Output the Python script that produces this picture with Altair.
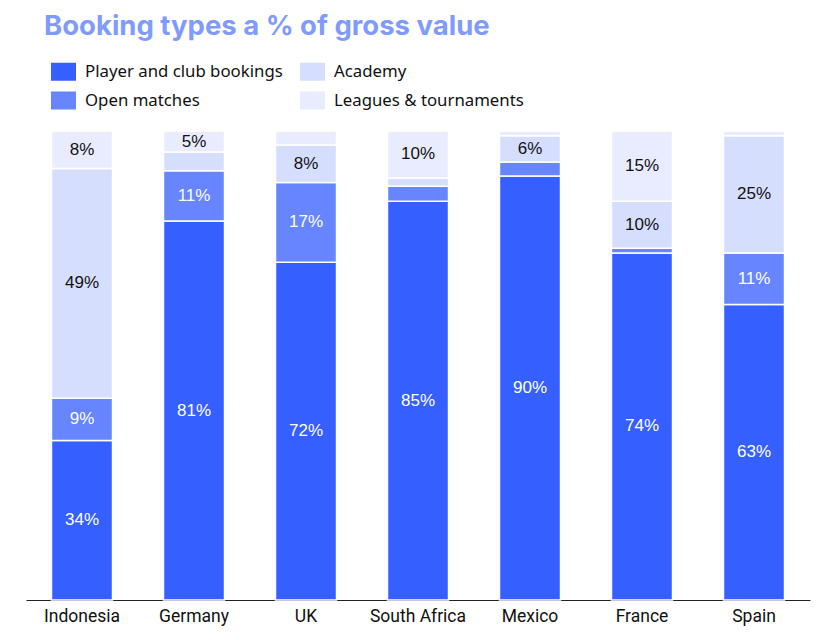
import altair as alt
import pandas as pd

countries = ["Indonesia", "Germany", "UK", "South Africa", "Mexico", "France", "Spain"]
categories = ["Player and club bookings", "Open matches", "Academy", "Leagues & tournaments"]
player = [34, 80.8, 72, 85, 90.4, 74, 63]
open_matches = [9, 10.7, 17, 3.2, 3, 1, 11]
academy = [49, 4.0, 8, 1.8, 5.6, 10, 25]
leagues = [8, 4.5, 3, 10, 1, 15, 1]

series = [player, open_matches, academy, leagues]
colors = {"Player and club bookings": "#3560FF", "Open matches": "#6685FF",
          "Academy": "#D6DEFE", "Leagues & tournaments": "#E9ECFF"}
text_colors = {"Player and club bookings": "white", "Open matches": "white",
               "Academy": "#111111", "Leagues & tournaments": "#111111"}

rows = []
for ci, cat in enumerate(categories):
    for i, c in enumerate(countries):
        rows.append({"country": c, "category": cat, "order": ci,
                     "value": series[ci][i], "tcolor": text_colors[cat]})
df = pd.DataFrame(rows)

base = alt.Chart(df).transform_stack(
    stack="value", groupby=["country"],
    sort=[alt.SortField("order", order="ascending")], as_=["y0", "y1"]
).transform_calculate(mid="(datum.y0 + datum.y1) / 2",
                      label="round(datum.value) + '%'")

x = alt.X("country:N", sort=countries,
          scale=alt.Scale(paddingInner=0.455, paddingOuter=0.2275),
          axis=alt.Axis(title=None, labelAngle=0, ticks=False, domainColor="#222222",
                        domainWidth=1, labelFont="Roboto", labelFontSize=17.5,
                        labelColor="#111111", labelPadding=7))

bars = base.mark_bar(stroke="white", strokeWidth=1.5).encode(
    x=x,
    y=alt.Y("y0:Q", scale=alt.Scale(domain=[0, 100]), axis=None),
    y2="y1:Q",
    color=alt.Color("category:N",
                    scale=alt.Scale(domain=categories, range=[colors[k] for k in categories]),
                    legend=alt.Legend(title=None, orient="none", legendX=25, legendY=-72,
                                      columns=2, columnPadding=17, rowPadding=7,
                                      symbolType="M-1,-0.72L1,-0.72L1,0.72L-1,0.72Z",
                                      symbolSize=625, symbolStrokeWidth=0, symbolOpacity=1,
                                      labelFont="Noto Sans", labelFontSize=16.8,
                                      labelColor="#111111", labelOffset=9, labelLimit=400)),
)

text = base.transform_filter("datum.value >= 4.5").mark_text(
    font="Liberation Sans", fontSize=17
).encode(
    x=x,
    y=alt.Y("mid:Q", scale=alt.Scale(domain=[0, 100]), axis=None),
    text="label:N",
    color=alt.Color("tcolor:N", scale=None),
)

chart = alt.layer(bars, text).properties(
    width=784, height=469,
    autosize=alt.AutoSizeParams(type="none"),
    padding={"left": 18, "top": 123, "right": 13, "bottom": 31},
    title=alt.TitleParams("Booking types a % of gross value", anchor="start",
                          font="Inter", fontSize=27.5, fontWeight="bold",
                          color="#7F9BFF", offset=19, dx=18),
).configure_view(stroke=None)

chart.save("out.html", embed_options={"renderer": "svg", "actions": False})
